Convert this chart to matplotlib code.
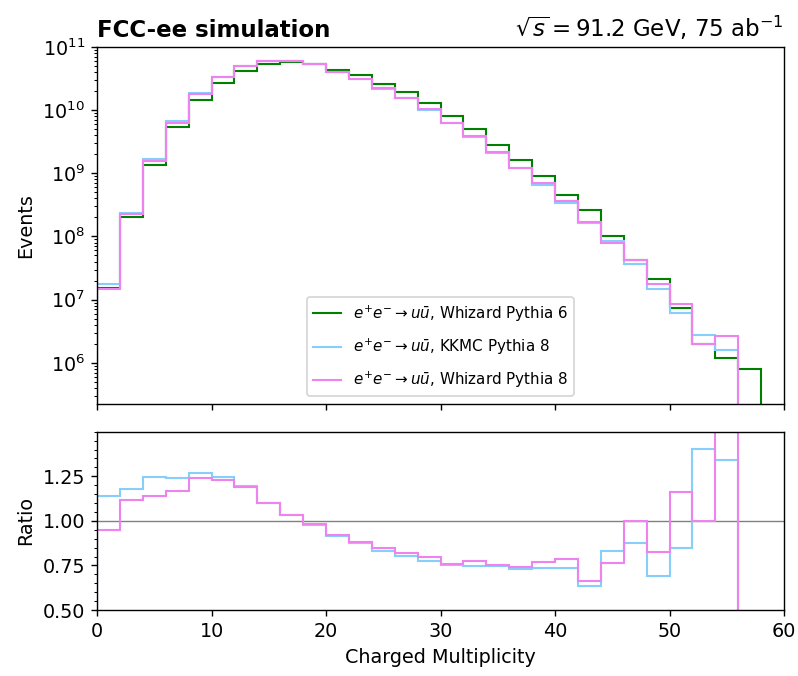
import numpy as np
import matplotlib.pyplot as plt
from matplotlib.ticker import MultipleLocator

plt.rcParams["font.size"] = 11

# bins of charged multiplicity, width 2
edges = np.arange(0, 62, 2)

# e+e- -> u ubar, Whizard + Pythia 6 (reference sample), events per bin
whizard_p6 = np.array([
    1.53e7, 2.01e8, 1.37e9, 5.36e9, 1.47e10, 2.71e10, 4.24e10, 5.42e10,
    5.74e10, 5.42e10, 4.40e10, 3.57e10, 2.64e10, 1.92e10, 1.31e10, 8.21e9,
    5.11e9, 2.85e9, 1.65e9, 8.96e8, 4.60e8, 2.59e8, 1.03e8, 4.18e7,
    2.12e7, 7.36e6, 1.98e6, 1.19e6, 7.94e5, 0.0,
])

# ratios to the Whizard Pythia 6 sample
ratio_kkmc_p8 = np.array([
    1.138, 1.179, 1.248, 1.240, 1.271, 1.248, 1.196, 1.102, 1.035, 0.979,
    0.914, 0.875, 0.831, 0.802, 0.775, 0.754, 0.745, 0.745, 0.728, 0.738,
    0.738, 0.635, 0.831, 0.875, 0.693, 0.848, 1.402, 1.342, 0.0, np.nan,
])
ratio_whizard_p8 = np.array([
    0.948, 1.117, 1.138, 1.169, 1.240, 1.231, 1.190, 1.102, 1.035, 0.983,
    0.921, 0.881, 0.846, 0.821, 0.795, 0.760, 0.773, 0.752, 0.743, 0.771,
    0.786, 0.661, 0.762, 1.000, 0.823, 1.162, 1.000, 2.250, 0.0, np.nan,
])

kkmc_p8 = np.nan_to_num(whizard_p6 * ratio_kkmc_p8)
whizard_p8 = np.nan_to_num(whizard_p6 * ratio_whizard_p8)

lab = r"$e^{+}e^{-} \rightarrow u\bar{u}$"
samples = [
    (whizard_p6, None, "green", lab + ", Whizard Pythia 6"),
    (kkmc_p8, ratio_kkmc_p8, "lightskyblue", lab + ", KKMC Pythia 8"),
    (whizard_p8, ratio_whizard_p8, "violet", lab + ", Whizard Pythia 8"),
]

fig, (ax, rax) = plt.subplots(2, 1, sharex=True, figsize=(6.384, 5.408), dpi=125,
                              gridspec_kw=dict(height_ratios=[2, 1]))
fig.subplots_adjust(left=0.1216, right=0.9825, top=0.9305, bottom=0.0976, hspace=0.105)

for counts, ratio, col, label in samples:
    ax.stairs(counts, edges, baseline=0, color=col, lw=1.2, label=label)
    if ratio is not None:
        rax.stairs(ratio, edges, baseline=0, color=col, lw=1.2, zorder=2)

ax.set_yscale("log")
ax.set_ylim(2.26e5, 1e11)
ax.set_xlim(0, 60)
ax.set_ylabel("Events")
ax.tick_params(labelbottom=False)
ax.legend(loc="lower center", fontsize=8.7, labelspacing=0.85, handlelength=1.8)
ax.set_title("FCC-ee simulation", loc="left", fontweight="bold")
ax.set_title(r"$\sqrt{s} = 91.2$ GeV, 75 ab$^{-1}$", loc="right")

rax.axhline(1.0, color="grey", lw=0.8, zorder=1)
rax.set_ylim(0.5, 1.5)
rax.set_yticks([0.5, 0.75, 1.0, 1.25])
rax.yaxis.set_minor_locator(MultipleLocator(0.05))
rax.set_xticks(np.arange(0, 61, 10))
rax.set_ylabel("Ratio")
rax.set_xlabel("Charged Multiplicity")

fig.align_ylabels([ax, rax])
fig.savefig("out.png", dpi=125)
